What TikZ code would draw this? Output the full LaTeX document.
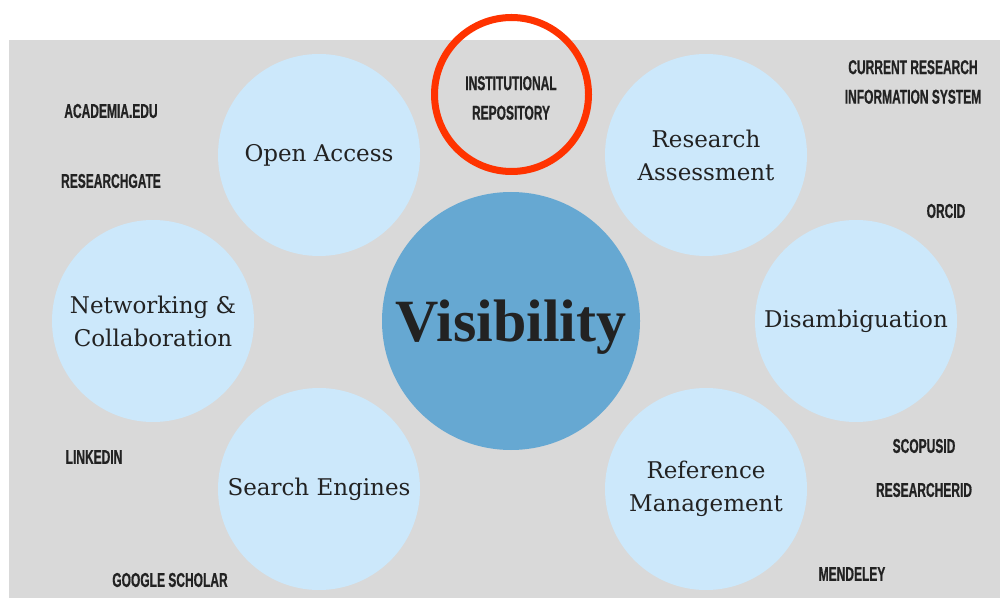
\documentclass[tikz,border=0pt]{standalone}
\usepackage{fontspec}
\newfontfamily\circfont{DejaVu Serif}
\newfontfamily\visfont{Liberation Serif Bold}
\newfontfamily\tagfont[FakeStretch=0.6,FakeBold=0.6]{Liberation Sans Bold}
\definecolor{bggray}{HTML}{D9D9D9}
\definecolor{lightblue}{HTML}{CCE8FB}
\definecolor{midblue}{HTML}{66A8D2}
\definecolor{ringred}{HTML}{FF3300}
\definecolor{ink}{HTML}{222222}
\tikzset{
  x=0.5pt, y=-0.5pt,
  topic/.style={circle, fill=lightblue, minimum size=101pt, inner sep=0pt,
    align=center, text=ink, font=\circfont\fontsize{11.5}{16.5}\selectfont},
  hub/.style={circle, fill=midblue, minimum size=129pt, inner sep=0pt,
    text=ink, font=\visfont\fontsize{30}{34}\selectfont},
  hubtext/.style={inner sep=0pt, text=ink, font=\visfont\fontsize{30}{34}\selectfont},
  tag/.style={inner sep=0pt, align=center, text=ink,
    font=\tagfont\fontsize{10}{14.8}\selectfont},
  ring/.style={circle, draw=ringred, line width=3.5pt, minimum size=77pt, inner sep=0pt}
}
\begin{document}
\begin{tikzpicture}
\useasboundingbox (0,0) rectangle (1000,598);
\fill[bggray] (9,40) rectangle (1000,598);
\node[hub] (vis) at (511,321) {};
\node[hubtext] (vist) at (511,327) {Visibility};
\node[topic] (oa) at (319,155) {Open Access};
\node[topic] (ra) at (706,155) {Research\\Assessment};
\node[topic] (nc) at (153,321) {Networking \&\\Collaboration};
\node[topic] (dis) at (856,321) {Disambiguation};
\node[topic] (se) at (319,489) {Search Engines};
\node[topic] (rm) at (706,489) {Reference\\Management};
\node[ring] (ir) at (511.5,94.5) {};
\node[tag] (irt) at (511,98) {INSTITUTIONAL\\REPOSITORY};
\node[tag] (acad) at (111,111) {ACADEMIA.EDU};
\node[tag] (rg) at (111,181) {RESEARCHGATE};
\node[tag] (li) at (94,457) {LINKEDIN};
\node[tag] (gs) at (170,580) {GOOGLE SCHOLAR};
\node[tag] (cris) at (913,82) {CURRENT RESEARCH\\INFORMATION SYSTEM};
\node[tag] (orcid) at (946,211) {ORCID};
\node[tag] (scop) at (924,446) {SCOPUSID};
\node[tag] (rid) at (924,490) {RESEARCHERID};
\node[tag] (mend) at (852,574) {MENDELEY};
\end{tikzpicture}
\end{document}
